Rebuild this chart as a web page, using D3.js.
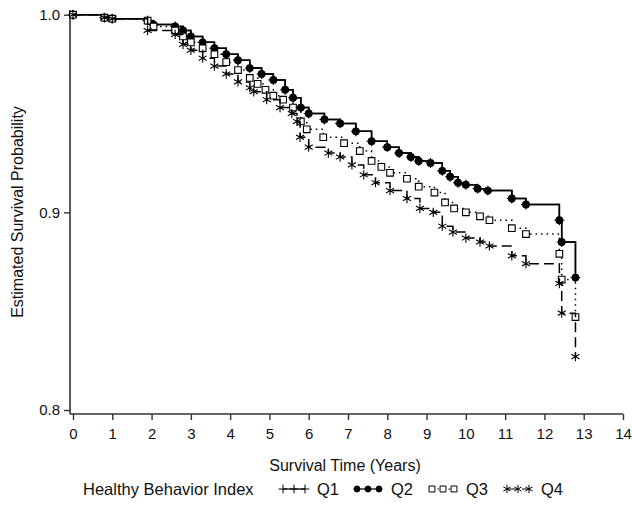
<!DOCTYPE html>
<html>
<head>
<meta charset="utf-8">
<script src="https://cdn.jsdelivr.net/npm/d3@7"></script>
<style>
  body { margin: 0; background: #fff; }
  text { font-family: "Liberation Sans", Arial, sans-serif; fill: #111; }
</style>
</head>
<body>
<div id="chart"></div>
<script>
// step points (years, survival)
// Q1 lies under the Q2 curve in the picture
var q1Time = [0, 0.8, 1.0, 1.9, 2.05, 2.6, 2.8, 3.0, 3.3, 3.6, 3.9, 4.2, 4.5, 4.8, 5.1, 5.4, 5.6, 5.8, 6.0, 6.4, 6.8, 7.2, 7.6, 8.0, 8.3, 8.6, 8.8, 9.1, 9.4, 9.6, 9.8, 10.0, 10.3, 10.56, 11.17, 11.53, 12.38, 12.44, 12.79]
var q1Surv = [1.0, 0.9985, 0.998, 0.997, 0.995, 0.994, 0.992, 0.989, 0.986, 0.983, 0.980, 0.977, 0.973, 0.970, 0.967, 0.962, 0.958, 0.953, 0.950, 0.947, 0.945, 0.941, 0.936, 0.933, 0.930, 0.928, 0.926, 0.925, 0.921, 0.918, 0.915, 0.914, 0.912, 0.911, 0.907, 0.904, 0.896, 0.885, 0.867]

var q2Time = [0, 0.8, 1.0, 1.9, 2.05, 2.6, 2.8, 3.0, 3.3, 3.6, 3.9, 4.2, 4.5, 4.8, 5.1, 5.4, 5.6, 5.8, 6.0, 6.4, 6.8, 7.2, 7.6, 8.0, 8.3, 8.6, 8.8, 9.1, 9.4, 9.6, 9.8, 10.0, 10.3, 10.56, 11.17, 11.53, 12.38, 12.44, 12.79]
var q2Surv = [1.0, 0.9985, 0.998, 0.997, 0.995, 0.994, 0.992, 0.989, 0.986, 0.983, 0.980, 0.977, 0.973, 0.970, 0.967, 0.962, 0.958, 0.953, 0.950, 0.947, 0.945, 0.941, 0.936, 0.933, 0.930, 0.928, 0.926, 0.925, 0.921, 0.918, 0.915, 0.914, 0.912, 0.911, 0.907, 0.904, 0.896, 0.885, 0.867]

var q3Time = [0, 0.8, 1.0, 1.9, 2.05, 2.6, 2.8, 3.0, 3.3, 3.6, 3.9, 4.2, 4.5, 4.7, 4.9, 5.1, 5.35, 5.6, 5.8, 5.95, 6.37, 6.9, 7.3, 7.6, 7.85, 8.07, 8.5, 8.8, 9.2, 9.47, 9.7, 10.0, 10.36, 10.6, 11.17, 11.53, 12.38, 12.44, 12.79]
var q3Surv = [1.0, 0.9985, 0.998, 0.997, 0.994, 0.992, 0.989, 0.986, 0.983, 0.980, 0.976, 0.972, 0.968, 0.965, 0.962, 0.959, 0.957, 0.953, 0.946, 0.942, 0.938, 0.935, 0.931, 0.926, 0.923, 0.920, 0.917, 0.913, 0.910, 0.905, 0.902, 0.900, 0.898, 0.896, 0.892, 0.889, 0.879, 0.866, 0.847]

var q4Time = [0, 0.8, 1.0, 1.9, 2.6, 2.8, 3.0, 3.3, 3.6, 3.9, 4.2, 4.5, 4.6, 4.93, 5.27, 5.57, 5.7, 5.78, 6.0, 6.5, 6.8, 7.1, 7.4, 7.7, 8.07, 8.5, 8.83, 9.17, 9.4, 9.67, 10.0, 10.36, 10.6, 11.17, 11.53, 12.38, 12.44, 12.79]
var q4Surv = [1.0, 0.9985, 0.998, 0.992, 0.990, 0.985, 0.982, 0.978, 0.974, 0.970, 0.966, 0.963, 0.961, 0.957, 0.953, 0.950, 0.946, 0.938, 0.933, 0.930, 0.928, 0.924, 0.919, 0.915, 0.911, 0.907, 0.902, 0.900, 0.893, 0.890, 0.887, 0.885, 0.883, 0.878, 0.874, 0.864, 0.849, 0.827]

var groupNames = ["Q1", "Q2", "Q3", "Q4"]
var xTicks = [0, 1, 2, 3, 4, 5, 6, 7, 8, 9, 10, 11, 12, 13, 14]
var yTicks = [0.8, 0.9, 1.0]

var width = 632, height = 511

var svg = d3.select("#chart")
  .append("svg")
    .attr("width", width)
    .attr("height", height)

var x = d3.scaleLinear().domain([0, 14]).range([73, 623])
var y = d3.scaleLinear().domain([0.8, 1.0]).range([410, 14.7])

var axisColor = "#333"

// axes
var xAxis = svg.append("g")
    .attr("transform", "translate(0,414)")
    .call(d3.axisBottom(x).tickValues(xTicks).tickFormat(d3.format("d")).tickSize(6).tickSizeOuter(0))
xAxis.select(".domain").attr("d", "M70,0H623").attr("stroke", axisColor).attr("stroke-width", 1.6)
xAxis.selectAll(".tick line").attr("stroke", axisColor).attr("stroke-width", 1.4)
xAxis.selectAll(".tick text").attr("font-size", 15).attr("dy", "1.05em").style("font-family", "Liberation Sans")

var yAxis = svg.append("g")
    .attr("transform", "translate(70,0)")
    .call(d3.axisLeft(y).tickValues(yTicks).tickFormat(d3.format(".1f")).tickSize(6).tickSizeOuter(0))
yAxis.select(".domain").attr("d", "M0,10V414").attr("stroke", axisColor).attr("stroke-width", 1.6)
yAxis.selectAll(".tick line").attr("stroke", axisColor).attr("stroke-width", 1.4)
yAxis.selectAll(".tick text").attr("font-size", 15).attr("x", -10).style("font-family", "Liberation Sans")

// axis titles
svg.append("text")
    .attr("x", 345).attr("y", 471)
    .attr("text-anchor", "middle")
    .attr("font-size", 16)
    .text("Survival Time (Years)")

svg.append("text")
    .attr("transform", "translate(23,212) rotate(-90)")
    .attr("text-anchor", "middle")
    .attr("font-size", 16)
    .text("Estimated Survival Probability")

// series
var series = [
  {name: groupNames[0], t: q1Time, s: q1Surv, dash: null, sym: d3.symbolPlus, size: 34, fill: "none"},
  {name: groupNames[1], t: q2Time, s: q2Surv, dash: null, sym: d3.symbolCircle, size: 36, fill: "#000"},
  {name: groupNames[2], t: q3Time, s: q3Surv, dash: "1.5,4", sym: d3.symbolSquare, size: 44, fill: "#fff"},
  {name: groupNames[3], t: q4Time, s: q4Surv, dash: "10,5", sym: d3.symbolAsterisk, size: 60, fill: "none"}
]

var line = d3.line()
  .curve(d3.curveStepAfter)
  .x(function(d) { return x(d[0]) })
  .y(function(d) { return y(d[1]) })

series.forEach(function(sr) {
  var pts = sr.t.map(function(t, i) { return [t, sr.s[i]] })
  var g = svg.append("g")
  g.append("path")
    .datum(pts)
    .attr("d", line)
    .attr("fill", "none")
    .attr("stroke", "#000")
    .attr("stroke-width", 1.5)
    .attr("stroke-dasharray", sr.dash)
  g.selectAll("path.mark")
    .data(pts)
    .enter()
    .append("path")
      .attr("class", "mark")
      .attr("transform", function(d) { return "translate(" + x(d[0]) + "," + y(d[1]) + ")" })
      .attr("d", d3.symbol().type(sr.sym).size(sr.size))
      .attr("fill", sr.fill)
      .attr("stroke", "#000")
      .attr("stroke-width", 1.1)
})

// legend
var legend = svg.append("g")
legend.append("text")
    .attr("x", 83).attr("y", 495)
    .attr("font-size", 16.5)
    .text("Healthy Behavior Index")

var legendX = [283, 357, 432, 507]
series.forEach(function(sr, i) {
  var lx = legendX[i]
  legend.append("line")
    .attr("x1", lx).attr("x2", lx + 22)
    .attr("y1", 489).attr("y2", 489)
    .attr("stroke", "#000")
    .attr("stroke-width", 1.2)
    .attr("stroke-dasharray", sr.dash)
  ;[0, 11, 22].forEach(function(dx) {
    legend.append("path")
      .attr("transform", "translate(" + (lx + dx) + ",489)")
      .attr("d", d3.symbol().type(sr.sym).size(sr.size * 0.8))
      .attr("fill", sr.fill)
      .attr("stroke", "#000")
      .attr("stroke-width", 1)
  })
  legend.append("text")
    .attr("x", lx + 34).attr("y", 495)
    .attr("font-size", 16.5)
    .text(sr.name)
})
</script>
</body>
</html>
